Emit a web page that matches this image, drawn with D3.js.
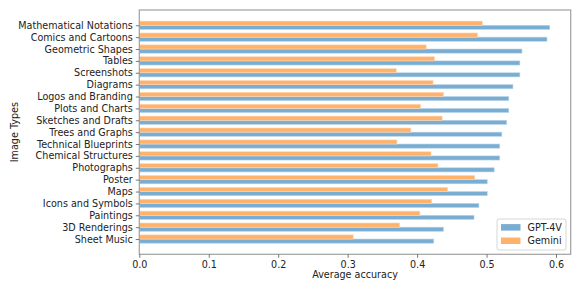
<!DOCTYPE html>
<html><head><meta charset="utf-8">
<script src="https://cdn.jsdelivr.net/npm/d3@7"></script>
<style>body{margin:0;background:#fff}svg{display:block}text{font-family:"DejaVu Sans",sans-serif;fill:#222}</style>
</head><body><svg id="c" width="581" height="291"></svg>
<script>
const categories = ["Mathematical Notations","Comics and Cartoons","Geometric Shapes","Tables","Screenshots","Diagrams","Logos and Branding","Plots and Charts","Sketches and Drafts","Trees and Graphs","Technical Blueprints","Chemical Structures","Photographs","Poster","Maps","Icons and Symbols","Paintings","3D Renderings","Sheet Music"];
const gpt4v = [0.591,0.587,0.551,0.548,0.548,0.538,0.532,0.532,0.529,0.522,0.519,0.519,0.511,0.501,0.501,0.489,0.482,0.438,0.424];
const gemini = [0.494,0.487,0.413,0.425,0.370,0.423,0.438,0.405,0.436,0.391,0.371,0.420,0.430,0.483,0.444,0.421,0.404,0.375,0.308];
const xTicks = [0,0.1,0.2,0.3,0.4,0.5,0.6];
const seriesNames = ["GPT-4V","Gemini"];
const colors = ["#79add2","#ffb26b"];

const svg = d3.select("#c");
const L=139.3, R=570.7, T=10, B=254.3, fs=9.6;
const n = categories.length, w = 0.35, pad = 0.05*(n-1+2*w);
const x = d3.scaleLinear().domain([0,(R-L)/694.5]).range([L,R]);
const y = d3.scaleLinear().domain([-w-pad, n-1+w+pad]).range([T,B]);

const g = svg.append("g");
g.selectAll(".b1").data(gpt4v).join("rect")
  .attr("x",x(0)).attr("y",(d,i)=>y(i)).attr("width",d=>x(d)-x(0)).attr("height",y(w)-y(0))
  .attr("fill",colors[0]).attr("stroke","#bcd6e9").attr("stroke-width",0.6);
g.selectAll(".b2").data(gemini).join("rect")
  .attr("x",x(0)).attr("y",(d,i)=>y(i-w)).attr("width",d=>x(d)-x(0)).attr("height",y(w)-y(0))
  .attr("fill",colors[1]).attr("stroke","#ffd8b5").attr("stroke-width",0.6);

const sp = "#a0a0a0";
svg.append("rect").attr("x",L).attr("y",T).attr("width",R-L).attr("height",B-T)
  .attr("fill","none").attr("stroke",sp).attr("stroke-width",1.2);

const xa = svg.append("g").attr("transform",`translate(0,${B})`)
  .call(d3.axisBottom(x).tickValues(xTicks).tickFormat(d3.format(".1f")).tickSize(3.5).tickPadding(3));
xa.select(".domain").remove();
xa.selectAll("line").attr("stroke","#555").attr("stroke-width",0.8);
xa.selectAll("text").attr("font-size",fs).attr("font-family","DejaVu Sans").attr("fill","#222");

const ya = svg.append("g").attr("transform",`translate(${L},0)`)
  .call(d3.axisLeft(y).tickValues(d3.range(n)).tickFormat(i=>categories[i]).tickSize(3.5).tickPadding(3));
ya.select(".domain").remove();
ya.selectAll("line").attr("stroke","#555").attr("stroke-width",0.8);
ya.selectAll("text").attr("font-size",fs).attr("font-family","DejaVu Sans").attr("fill","#222");

svg.append("text").attr("x",(L+R)/2).attr("y",278).attr("text-anchor","middle").attr("font-size",fs).text("Average accuracy");
svg.append("text").attr("transform",`translate(18,${(T+B)/2}) rotate(-90)`).attr("text-anchor","middle").attr("font-size",fs).text("Image Types");

const lg = svg.append("g");
lg.append("rect").attr("x",497).attr("y",219).attr("width",69).attr("height",31).attr("rx",2)
  .attr("fill","#fff").attr("fill-opacity",0.8).attr("stroke","#ccc").attr("stroke-width",0.8);
seriesNames.forEach((s,i)=>{
  const cy = 227.3 + i*13.4;
  lg.append("rect").attr("x",501).attr("y",cy-3.2).attr("width",19.5).attr("height",6.5).attr("fill",colors[i]);
  lg.append("text").attr("x",527.5).attr("y",cy).attr("dy","0.35em").attr("font-size",fs).text(s);
});
</script></body></html>
